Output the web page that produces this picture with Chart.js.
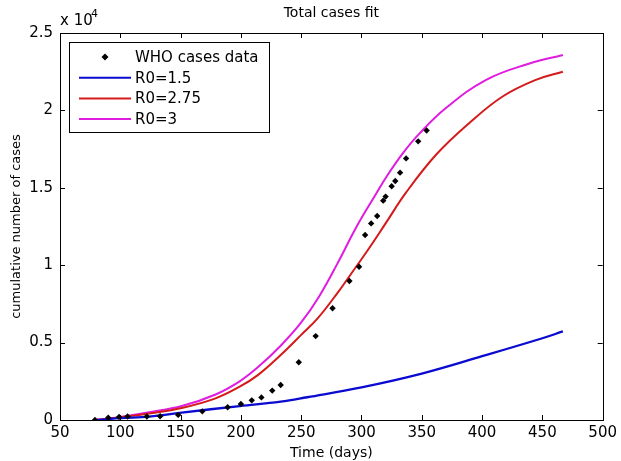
<!DOCTYPE html>
<html>
<head>
<meta charset="utf-8">
<script src="https://cdn.jsdelivr.net/npm/chart.js@4"></script>
<style>
  html, body { margin: 0; padding: 0; background: #fff; }
  #wrap { width: 621px; height: 461px; }
</style>
</head>
<body>
<div id="wrap"><canvas id="chart1" width="621" height="461"></canvas></div>
<script>
// WHO reported cumulative cases
const whoDays = [79, 90, 99, 106, 122, 133, 148, 168, 189, 200, 209, 217, 226, 233, 248, 262, 276, 290, 298, 303, 308, 313, 318, 320, 325, 328, 332, 337, 347, 354];
const whoCases = [0, 150, 200, 230, 230, 240, 330, 560, 820, 1030, 1270, 1460, 1900, 2260, 3730, 5420, 7220, 8980, 9900, 11950, 12700, 13180, 14170, 14430, 15100, 15440, 15980, 16900, 18000, 18700];

// model fits
const r15Days = [80, 100, 124, 151, 199, 233, 255, 300, 350, 400, 450, 467];
const r15Cases = [0, 120, 220, 480, 900, 1180, 1470, 2110, 3000, 4120, 5280, 5720];

const r275Days = [80, 100, 124, 151, 179, 199, 214, 233, 250, 264, 280, 291, 305, 320, 337, 362, 389, 417, 444, 467];
const r275Cases = [0, 170, 420, 780, 1400, 2150, 2900, 4200, 5500, 6600, 8200, 9400, 10950, 12700, 14700, 17150, 19160, 20900, 21960, 22500];

const r3Days = [80, 100, 124, 151, 179, 199, 214, 233, 250, 265, 280, 296, 312, 321, 335, 348, 370, 403, 438, 467];
const r3Cases = [0, 200, 500, 900, 1650, 2500, 3400, 4800, 6300, 8000, 10100, 12500, 14600, 15750, 17300, 18500, 20150, 21960, 23000, 23580];

const seriesNames = ['WHO cases data', 'R0=1.5', 'R0=2.75', 'R0=3'];
const seriesColors = ['#000000', '#0a0ad0', '#d41a1a', '#e01ce0'];

const xTicks = [50, 100, 150, 200, 250, 300, 350, 400, 450, 500];
const yTicks = [0, 5000, 10000, 15000, 20000, 25000];

const FONT = 'DejaVu Sans';

function pts(xs, ys) {
    return xs.map((x, i) => ({ x: x, y: ys[i] }));
}

// box, inward ticks, titles and legend drawn like a matlab figure
const figurePlugin = {
    id: 'figure',
    afterDraw(chart) {
        const ctx = chart.ctx;
        const a = chart.chartArea;
        const xs = chart.scales.x, ys = chart.scales.y;
        ctx.save();
        ctx.strokeStyle = '#000';
        ctx.lineWidth = 1;
        ctx.strokeRect(Math.round(a.left) + 0.5, Math.round(a.top) + 0.5, Math.round(a.right - a.left), Math.round(a.bottom - a.top));
        ctx.beginPath();
        xTicks.forEach(v => {
            const px = Math.round(xs.getPixelForValue(v)) + 0.5;
            ctx.moveTo(px, a.bottom); ctx.lineTo(px, a.bottom - 5);
            ctx.moveTo(px, a.top); ctx.lineTo(px, a.top + 5);
        });
        yTicks.forEach(v => {
            const py = Math.round(ys.getPixelForValue(v)) + 0.5;
            ctx.moveTo(a.left, py); ctx.lineTo(a.left + 5, py);
            ctx.moveTo(a.right, py); ctx.lineTo(a.right - 5, py);
        });
        ctx.stroke();

        ctx.fillStyle = '#000';
        ctx.textBaseline = 'alphabetic';
        ctx.textAlign = 'center';
        ctx.font = '14px ' + FONT;
        ctx.fillText('Total cases fit', (a.left + a.right) / 2, 17);
        ctx.fillText('Time (days)', (a.left + a.right) / 2, 457);

        ctx.textAlign = 'left';
        ctx.font = '15px ' + FONT;
        ctx.fillText('x 10', 60, 25);
        ctx.font = '11px ' + FONT;
        ctx.fillText('4', 91, 17);

        ctx.save();
        ctx.translate(20, (a.top + a.bottom) / 2);
        ctx.rotate(-Math.PI / 2);
        ctx.textAlign = 'center';
        ctx.font = '13px ' + FONT;
        ctx.fillText('cumulative number of cases', 0, 0);
        ctx.restore();

        // legend
        const lx = 69, ly = 42, lw = 200, lh = 90;
        ctx.fillStyle = '#fff';
        ctx.fillRect(lx, ly, lw, lh);
        ctx.strokeRect(lx + 0.5, ly + 0.5, lw, lh);
        ctx.font = '15px ' + FONT;
        ctx.textBaseline = 'middle';
        seriesNames.forEach((name, i) => {
            const y = ly + 15 + i * 20.7;
            if (i === 0) {
                ctx.fillStyle = '#000';
                ctx.beginPath();
                ctx.moveTo(105, y - 3.5); ctx.lineTo(108.5, y); ctx.lineTo(105, y + 3.5); ctx.lineTo(101.5, y);
                ctx.closePath();
                ctx.fill();
            } else {
                ctx.strokeStyle = seriesColors[i];
                ctx.lineWidth = 2;
                ctx.beginPath();
                ctx.moveTo(79, y); ctx.lineTo(131, y);
                ctx.stroke();
            }
            ctx.fillStyle = '#000';
            ctx.fillText(name, 135, y + 1);
        });
        ctx.restore();
    }
};

function createChart() {
    const ctx = document.getElementById('chart1');
    new Chart(ctx, {
        type: 'line',
        data: {
            datasets: [{
                label: seriesNames[0],
                data: pts(whoDays, whoCases),
                showLine: false,
                pointStyle: 'rectRot',
                pointRadius: 3.2,
                backgroundColor: '#000',
                borderColor: '#000',
                borderWidth: 0
            }, {
                label: seriesNames[1],
                data: pts(r15Days, r15Cases),
                borderColor: seriesColors[1],
                borderWidth: 2.3,
                pointRadius: 0,
                tension: 0.4
            }, {
                label: seriesNames[2],
                data: pts(r275Days, r275Cases),
                borderColor: seriesColors[2],
                borderWidth: 2,
                pointRadius: 0,
                tension: 0.4
            }, {
                label: seriesNames[3],
                data: pts(r3Days, r3Cases),
                borderColor: seriesColors[3],
                borderWidth: 2,
                pointRadius: 0,
                tension: 0.4
            }]
        },
        options: {
            responsive: false,
            animation: false,
            layout: { padding: { top: 33, right: 13, left: 0, bottom: 0 } },
            plugins: {
                legend: { display: false },
                title: { display: false },
                tooltip: { enabled: false }
            },
            scales: {
                x: {
                    type: 'linear',
                    min: 50,
                    max: 500,
                    grid: { display: false, drawTicks: false },
                    border: { display: false },
                    afterBuildTicks: s => { s.ticks = xTicks.map(v => ({ value: v })); },
                    afterFit: s => { s.height = 41; },
                    ticks: { color: '#000', padding: 4, font: { family: FONT, size: 15 }, maxRotation: 0 }
                },
                y: {
                    type: 'linear',
                    min: 0,
                    max: 25000,
                    grid: { display: false, drawTicks: false },
                    border: { display: false },
                    afterBuildTicks: s => { s.ticks = yTicks.map(v => ({ value: v })); },
                    afterFit: s => { s.width = 60; },
                    ticks: {
                        color: '#000',
                        padding: 7,
                        font: { family: FONT, size: 15 },
                        callback: v => String(v / 10000)
                    }
                }
            }
        },
        plugins: [figurePlugin]
    });
}

createChart();
</script>
</body>
</html>
